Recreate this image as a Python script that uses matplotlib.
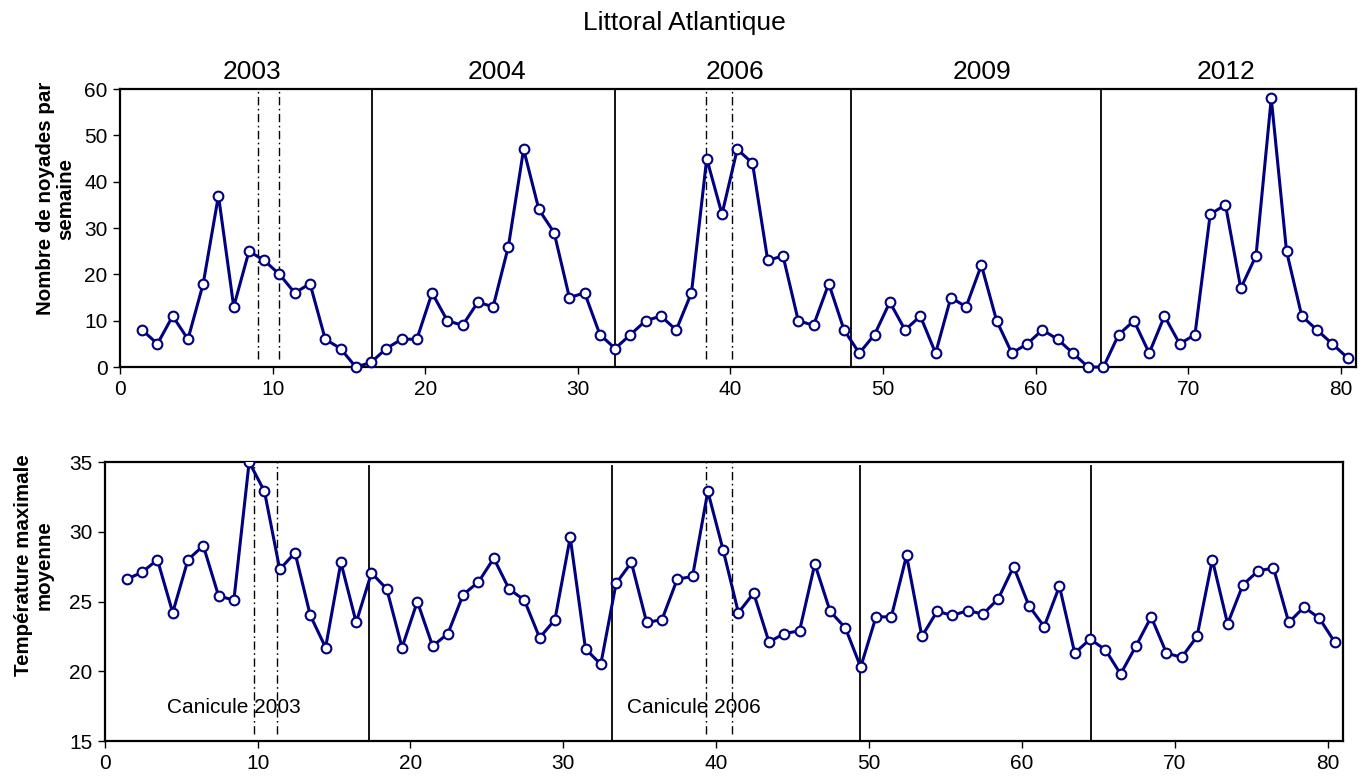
import numpy as np
import matplotlib
matplotlib.use('Agg')
import matplotlib.pyplot as plt

plt.rcParams['font.family'] = ['Liberation Sans', 'DejaVu Sans']

# weekly data, 80 summer weeks (2003, 2004, 2006, 2009, 2012)
weeks = np.arange(1, 81)
week_offset = 0.45

noyades = [8, 5, 11, 6, 18, 37, 13, 25, 23, 20,
           16, 18, 6, 4, 0, 1, 4, 6, 6, 16,
           10, 9, 14, 13, 26, 47, 34, 29, 15, 16,
           7, 4, 7, 10, 11, 8, 16, 45, 33, 47,
           44, 23, 24, 10, 9, 18, 8, 3, 7, 14,
           8, 11, 3, 15, 13, 22, 10, 3, 5, 8,
           6, 3, 0, 0, 7, 10, 3, 11, 5, 7,
           33, 35, 17, 24, 58, 25, 11, 8, 5, 2]

temperature = [26.6, 27.1, 28.0, 24.2, 28.0, 29.0, 25.4, 25.1, 35.0, 32.9,
               27.3, 28.5, 24.0, 21.7, 27.8, 23.5, 27.05, 25.9, 21.7, 25.0,
               21.8, 22.7, 25.5, 26.4, 28.1, 25.9, 25.1, 22.4, 23.7, 29.6,
               21.6, 20.5, 26.3, 27.8, 23.5, 23.7, 26.6, 26.8, 32.9, 28.7,
               24.2, 25.6, 22.1, 22.7, 22.9, 27.7, 24.3, 23.1, 20.3, 23.9,
               23.9, 28.3, 22.5, 24.3, 24.0, 24.35, 24.1, 25.2, 27.5, 24.7,
               23.2, 26.1, 21.3, 22.3, 21.55, 19.8, 21.8, 23.9, 21.3, 21.0,
               22.5, 28.0, 23.4, 26.2, 27.2, 27.4, 23.5, 24.6, 23.8, 22.1]

years = ['2003', '2004', '2006', '2009', '2012']
year_label_x = [8.66, 24.7, 40.3, 56.5, 72.5]

# separators between years and heat wave bounds
top_year_sep = [16.5, 32.46, 47.9, 64.3]
top_canicule = [9.05, 10.43, 38.4, 40.1]
bot_year_sep = [17.3, 33.2, 49.4, 64.5]
bot_canicule = [9.76, 11.3, 39.3, 41.0]
canicule_labels = ['Canicule 2003', 'Canicule 2006']
canicule_label_x = [4.07, 34.15]

navy = '#000080'
dashdot = (0, (6, 2.5, 1.2, 2.5))

fig = plt.figure(figsize=(13.72, 7.76), dpi=100)
ax1 = fig.add_axes([0.0875, 0.527, 0.9008, 0.3583])
ax2 = fig.add_axes([0.0763, 0.0451, 0.9026, 0.3595])

x = weeks + week_offset


def style_axis(ax):
    for s in ax.spines.values():
        s.set_linewidth(1.6)
        s.set_color('black')
    ax.tick_params(direction='out', length=5, width=1, labelsize=15,
                   colors='black', pad=4)
    ax.set_xlim(0, 81)
    ax.set_xticks(range(0, 81, 10))


# top panel: drownings
for xv in top_year_sep:
    ax1.plot([xv, xv], [0, 59.8], color='black', lw=1.3, zorder=1)
for xv in top_canicule:
    ax1.plot([xv, xv], [1.7, 60], color='black', lw=1.0, linestyle=dashdot, zorder=1)
ax1.plot(x, noyades, color=navy, lw=2.2, marker='o', markersize=7,
         markerfacecolor='white', markeredgecolor=navy, markeredgewidth=1.5,
         zorder=3, clip_on=False)
ax1.set_ylim(0, 60)
ax1.set_yticks(range(0, 61, 10))
style_axis(ax1)
ax1.set_ylabel('Nombre de noyades par\nsemaine', fontsize=14.8,
               fontweight='bold', linespacing=1.1)
ax1.yaxis.set_label_coords(-0.0364, 0.606)
for lab, xv in zip(years, year_label_x):
    ax1.text(xv, 61.0, lab, ha='center', va='bottom', fontsize=19)

# bottom panel: temperature
for xv in bot_year_sep:
    ax2.plot([xv, xv], [15, 34.7], color='black', lw=1.3, zorder=1)
for xv in bot_canicule:
    ax2.plot([xv, xv], [15.5, 35], color='black', lw=1.0, linestyle=dashdot, zorder=1)
ax2.plot(x, temperature, color=navy, lw=2.2, marker='o', markersize=7,
         markerfacecolor='white', markeredgecolor=navy, markeredgewidth=1.5,
         zorder=3)
ax2.set_ylim(15, 35)
ax2.set_yticks(range(15, 36, 5))
style_axis(ax2)
ax2.set_ylabel('Température maximale\nmoyenne', fontsize=14.8,
               fontweight='bold', linespacing=1.1)
ax2.yaxis.set_label_coords(-0.041, 0.63)
for lab, xv in zip(canicule_labels, canicule_label_x):
    ax2.text(xv, 17.4, lab, ha='left', va='center', fontsize=15, zorder=2)

fig.text(0.4985, 0.971, 'Littoral Atlantique', ha='center', va='center', fontsize=19)

fig.savefig('out.png', dpi=100)
